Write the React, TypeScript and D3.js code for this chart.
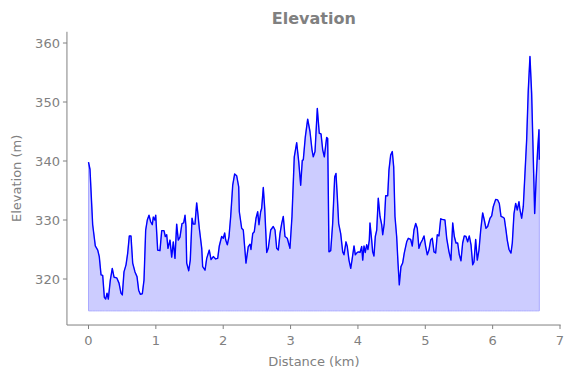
import React from "react";
import * as d3 from "d3";

const distanceKm = [
  0, 0.022, 0.062, 0.101, 0.137, 0.16, 0.186, 0.211, 0.235, 0.255, 0.275, 0.294, 0.324, 0.353, 0.379, 0.419,
  0.453, 0.482, 0.502, 0.527, 0.557, 0.582, 0.606, 0.631, 0.656, 0.69, 0.72, 0.745, 0.769, 0.799, 0.824, 0.849,
  0.873, 0.898, 0.923, 0.947, 0.962, 0.983, 0.998, 1.027, 1.061, 1.087, 1.121, 1.14, 1.161, 1.18, 1.21, 1.235,
  1.259, 1.284, 1.309, 1.333, 1.358, 1.388, 1.413, 1.433, 1.447, 1.458, 1.488, 1.511, 1.537, 1.556, 1.581, 1.606,
  1.621, 1.645, 1.681, 1.695, 1.73, 1.755, 1.793, 1.819, 1.853, 1.888, 1.918, 1.942, 1.977, 2.001, 2.022, 2.037,
  2.061, 2.086, 2.111, 2.141, 2.17, 2.2, 2.23, 2.239, 2.274, 2.298, 2.338, 2.372, 2.398, 2.412, 2.438, 2.461,
  2.487, 2.512, 2.531, 2.556, 2.571, 2.595, 2.616, 2.646, 2.669, 2.705, 2.743, 2.769, 2.794, 2.818, 2.843, 2.868,
  2.892, 2.917, 2.951, 2.991, 3.021, 3.055, 3.091, 3.121, 3.15, 3.174, 3.189, 3.219, 3.254, 3.288, 3.318, 3.337,
  3.363, 3.397, 3.426, 3.452, 3.477, 3.501, 3.536, 3.551, 3.57, 3.596, 3.625, 3.655, 3.674, 3.694, 3.714, 3.744,
  3.774, 3.793, 3.823, 3.842, 3.867, 3.893, 3.912, 3.942, 3.961, 3.982, 4.005, 4.031, 4.056, 4.071, 4.09, 4.109,
  4.13, 4.149, 4.169, 4.179, 4.204, 4.219, 4.238, 4.258, 4.279, 4.302, 4.328, 4.353, 4.368, 4.391, 4.412, 4.442,
  4.461, 4.486, 4.51, 4.531, 4.55, 4.575, 4.595, 4.614, 4.639, 4.664, 4.688, 4.724, 4.748, 4.783, 4.807, 4.832,
  4.858, 4.881, 4.906, 4.932, 4.956, 4.981, 5.006, 5.03, 5.055, 5.08, 5.104, 5.129, 5.154, 5.178, 5.203, 5.229,
  5.252, 5.292, 5.318, 5.352, 5.381, 5.407, 5.431, 5.456, 5.481, 5.505, 5.53, 5.555, 5.579, 5.604, 5.629, 5.653,
  5.679, 5.704, 5.723, 5.748, 5.772, 5.797, 5.823, 5.852, 5.876, 5.901, 5.926, 5.961, 5.986, 6.01, 6.045, 6.075,
  6.099, 6.124, 6.149, 6.173, 6.198, 6.217, 6.243, 6.272, 6.292, 6.317, 6.342, 6.366, 6.391, 6.406, 6.431, 6.455,
  6.48, 6.505, 6.529, 6.554, 6.579, 6.603, 6.624, 6.643, 6.668, 6.688, 6.693,
];

const elevationM = [
  339.8, 338.6, 329.2, 325.6, 324.9, 323.8, 320.7, 320.6, 316.9, 316.6, 317.6, 316.6, 319.8, 321.8, 320.3, 320.2,
  319.3, 317.6, 317.3, 321.2, 322.4, 324.4, 327.3, 327.3, 322.7, 321.2, 320.4, 318.1, 317.4, 317.5, 319.8, 328.3,
  330.0, 330.8, 329.7, 329.2, 330.5, 330.0, 330.8, 324.9, 324.8, 328.2, 328.2, 327.2, 327.5, 325.2, 326.6, 323.7,
  326.3, 323.5, 329.3, 326.6, 327.1, 329.4, 329.5, 330.8, 328.9, 322.7, 321.4, 323.2, 330.3, 329.3, 329.3, 332.9,
  331.4, 328.6, 325.2, 322.1, 321.5, 323.5, 324.9, 323.3, 323.8, 323.4, 323.5, 325.6, 327.2, 326.9, 327.8, 326.6,
  325.8, 327.2, 330.6, 335.9, 337.8, 337.5, 335.6, 331.4, 328.6, 328.3, 322.7, 325.5, 325.9, 325.0, 327.7, 328.0,
  330.3, 331.4, 329.2, 331.4, 332.0, 335.5, 332.0, 324.5, 325.2, 328.3, 328.9, 328.3, 325.2, 324.9, 327.7, 329.4,
  330.6, 327.2, 326.9, 325.2, 330.6, 340.7, 343.1, 339.9, 335.9, 340.1, 340.2, 344.1, 347.1, 345.0, 341.9, 340.7,
  341.6, 348.9, 344.7, 344.6, 341.9, 340.7, 344.0, 343.8, 324.6, 324.8, 329.4, 337.3, 337.9, 333.9, 329.4, 327.7,
  324.6, 324.1, 326.3, 325.5, 323.2, 321.8, 323.2, 325.6, 324.1, 324.4, 324.6, 324.5, 325.5, 323.2, 325.6, 324.5,
  325.8, 325.0, 326.6, 329.5, 326.6, 324.6, 323.9, 327.2, 328.3, 333.7, 330.6, 329.2, 327.5, 329.4, 334.1, 334.1,
  338.5, 341.0, 341.6, 339.0, 330.6, 327.2, 322.7, 319.0, 322.1, 322.7, 324.4, 326.3, 326.9, 326.7, 325.6, 328.3,
  329.4, 328.6, 325.2, 326.1, 326.6, 327.3, 325.5, 324.1, 324.9, 326.6, 326.9, 324.6, 324.4, 327.5, 327.3, 330.2,
  330.1, 330.0, 326.9, 324.6, 323.2, 329.5, 327.2, 326.1, 326.1, 324.1, 323.1, 326.1, 327.3, 327.2, 326.3, 327.3,
  325.8, 322.4, 322.9, 326.7, 323.2, 324.9, 328.3, 331.2, 330.0, 328.6, 328.9, 330.3, 330.7, 332.3, 333.5, 333.4,
  332.8, 330.6, 330.5, 330.3, 328.3, 326.6, 325.0, 324.4, 326.1, 331.1, 332.8, 331.7, 333.1, 331.7, 330.3, 332.3,
  337.9, 343.6, 352.0, 357.7, 351.5, 340.7, 331.1, 336.2, 341.9, 345.3, 340.2,
];

const xTicks = [0, 1, 2, 3, 4, 5, 6, 7];
const yTicks = [320, 330, 340, 350, 360];
const titleText = "Elevation";
const xLabel = "Distance (km)";
const yLabel = "Elevation (m)";
const fillBase = 314.6;

const W = 574;
const H = 378;
const GREY = "#808080";
const FONT = "'DejaVu Sans', sans-serif";

export default function App() {
  const x = d3.scaleLinear().domain([0, 7]).range([88.5, 560]);
  const y = d3.scaleLinear().domain([320, 360]).range([279, 43]);
  const data = distanceKm.map((d, i) => ({ d, e: elevationM[i] }));

  const line = d3
    .line<{ d: number; e: number }>()
    .x((p) => x(p.d))
    .y((p) => y(p.e));
  const area = d3
    .area<{ d: number; e: number }>()
    .x((p) => x(p.d))
    .y0(y(fillBase))
    .y1((p) => y(p.e));

  const left = x(-0.32);
  const right = x(7.01);
  const top = y(361.9);
  const bottom = y(312.2);

  return (
    <svg
      width={W}
      height={H}
      style={{ position: "absolute", left: 0, top: 0, background: "#fff" }}
      fontFamily={FONT}
    >
      <path d={area(data) || ""} fill="rgb(204,204,255)" stroke="rgb(170,170,255)" strokeWidth={1} />
      <path d={line(data) || ""} fill="none" stroke="#0000ff" strokeWidth={1.4} strokeLinejoin="round" />

      <line x1={left} x2={left} y1={top} y2={bottom} stroke={GREY} strokeWidth={1} />
      <line x1={left} x2={right} y1={bottom} y2={bottom} stroke={GREY} strokeWidth={1} />

      {xTicks.map((t) => (
        <g key={`x${t}`}>
          <line x1={x(t)} x2={x(t)} y1={bottom} y2={bottom + 4} stroke={GREY} strokeWidth={1} />
          <text x={x(t)} y={bottom + 20} textAnchor="middle" fontSize={13} fill={GREY}>
            {t}
          </text>
        </g>
      ))}
      {yTicks.map((t) => (
        <g key={`y${t}`}>
          <line x1={left - 4} x2={left} y1={y(t)} y2={y(t)} stroke={GREY} strokeWidth={1} />
          <text x={left - 7} y={y(t)} dy="0.35em" textAnchor="end" fontSize={13} fill={GREY}>
            {t}
          </text>
        </g>
      ))}

      <text x={(left + right) / 2} y={366} textAnchor="middle" fontSize={13} fill={GREY}>
        {xLabel}
      </text>
      <text
        transform={`translate(21,${(top + bottom) / 2}) rotate(-90)`}
        textAnchor="middle"
        fontSize={13}
        fill={GREY}
      >
        {yLabel}
      </text>
      <text x={(left + right) / 2} y={24} textAnchor="middle" fontSize={16} fontWeight="bold" fill={GREY}>
        {titleText}
      </text>
    </svg>
  );
}
